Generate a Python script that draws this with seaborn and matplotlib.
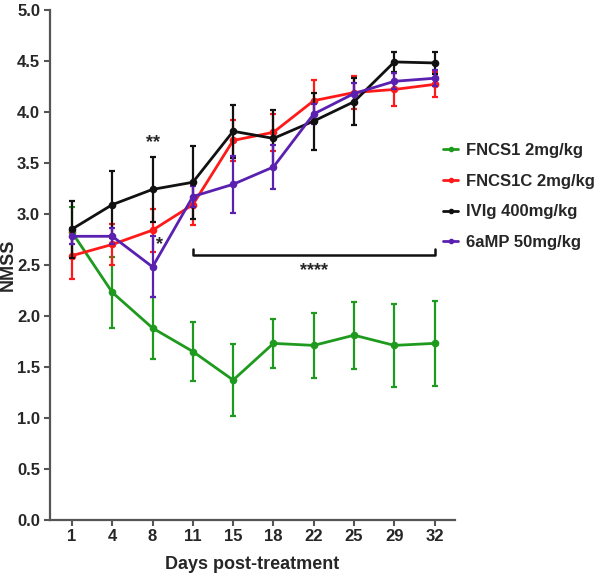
import numpy as np
import pandas as pd
import matplotlib
matplotlib.use('Agg')
import matplotlib.pyplot as plt
import seaborn as sns

days = [1, 4, 8, 11, 15, 18, 22, 25, 29, 32]
groups = ['FNCS1 2mg/kg', 'FNCS1C 2mg/kg', 'IVIg 400mg/kg', '6aMP 50mg/kg']
colors = ['#1e9a1e', '#ff1a1a', '#111111', '#5a20b0']

fncs1 = [2.82, 2.23, 1.88, 1.65, 1.37, 1.73, 1.71, 1.81, 1.71, 1.73]
fncs1_err = [0.25, 0.35, 0.30, 0.29, 0.35, 0.24, 0.32, 0.33, 0.41, 0.42]
fncs1c = [2.59, 2.70, 2.84, 3.09, 3.72, 3.80, 4.11, 4.19, 4.22, 4.27]
fncs1c_err = [0.23, 0.20, 0.21, 0.20, 0.20, 0.18, 0.20, 0.16, 0.16, 0.12]
ivig = [2.85, 3.09, 3.24, 3.31, 3.81, 3.74, 3.91, 4.10, 4.49, 4.48]
ivig_err = [0.28, 0.33, 0.32, 0.36, 0.26, 0.28, 0.28, 0.23, 0.10, 0.11]
amp = [2.78, 2.78, 2.48, 3.17, 3.29, 3.46, 3.98, 4.18, 4.30, 4.33]
amp_err = [0.08, 0.08, 0.30, 0.10, 0.28, 0.22, 0.10, 0.10, 0.08, 0.08]

means = [fncs1, fncs1c, ivig, amp]
errs = [fncs1_err, fncs1c_err, ivig_err, amp_err]

rows = []
for g, m, e in zip(groups, means, errs):
    for i, d in enumerate(days):
        rows.append({'pos': i, 'day': d, 'group': g, 'nmss': m[i], 'sem': e[i]})
df = pd.DataFrame(rows)

sns.set_style('ticks')
plt.rcParams['font.family'] = ['Liberation Sans', 'DejaVu Sans']
plt.rcParams['font.weight'] = 'bold'

fig = plt.figure(figsize=(6, 5.84), dpi=100)
ax = fig.add_axes([0.083, 0.11, 0.675, 0.873])

# draw order: green, purple, red, black on top like the original
order = [0, 3, 1, 2]
for k in order:
    sub = df[df['group'] == groups[k]]
    ax.errorbar(sub['pos'], sub['nmss'], yerr=sub['sem'], fmt='none',
                ecolor=colors[k], elinewidth=1.6, capsize=2.5, capthick=1.6, zorder=2 + k)
    sns.lineplot(data=sub, x='pos', y='nmss', color=colors[k], linewidth=2,
                 marker='o', markersize=5.5, markeredgewidth=0, ax=ax,
                 label=groups[k], zorder=3 + k, legend=False)

# significance marks
ax.text(2, 3.62, '**', ha='center', va='bottom', fontsize=13, fontweight='bold')
ax.text(2.18, 2.7, '*', ha='center', va='center', fontsize=13, fontweight='bold')
ax.plot([3, 3, 9, 9], [2.66, 2.6, 2.6, 2.66], color='#111111', linewidth=1.8, clip_on=False)
ax.text(6, 2.53, '****', ha='center', va='top', fontsize=13, fontweight='bold')

ax.set_xlim(-0.55, 9.5)
ax.set_ylim(0, 5.0)
ax.set_xticks(range(len(days)))
ax.set_xticklabels([str(d) for d in days])
ax.set_yticks(np.arange(0, 5.01, 0.5))
ax.set_yticklabels([f'{v:.1f}' for v in np.arange(0, 5.01, 0.5)])
ax.tick_params(labelsize=12, width=1.5, length=4, color='#555555', pad=3)
for lbl in ax.get_xticklabels() + ax.get_yticklabels():
    lbl.set_fontweight('bold')
for s in ['left', 'bottom']:
    ax.spines[s].set_linewidth(1.6)
    ax.spines[s].set_color('#555555')
sns.despine(ax=ax)

ax.set_xlabel('Days post-treatment', fontsize=13, fontweight='bold', labelpad=8)
ax.set_ylabel('NMSS', fontsize=13, fontweight='bold')
ax.yaxis.set_label_coords(-0.082, 0.5)

handles = [plt.Line2D([0], [0], color=c, linewidth=2, marker='o', markersize=3) for c in colors]
leg = ax.legend(handles, groups, loc='center left', bbox_to_anchor=(0.972, 0.634),
                frameon=False, handlelength=0.9, handletextpad=0.45, borderaxespad=0,
                borderpad=0, labelspacing=0.95, prop={'weight': 'bold', 'size': 12})

plt.savefig('out.png', dpi=100)
plt.close()
